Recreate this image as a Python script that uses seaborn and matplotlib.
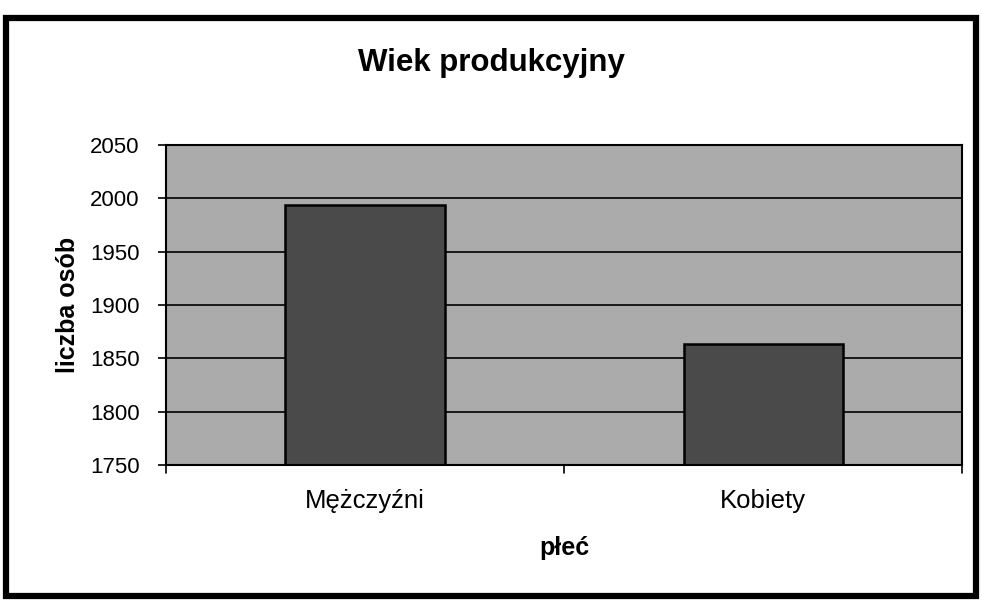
import matplotlib
matplotlib.use("Agg")
import matplotlib.pyplot as plt
import seaborn as sns
from matplotlib.patches import Rectangle

categories = ["Mężczyźni", "Kobiety"]
values = [1994, 1863]
yticks = [1750, 1800, 1850, 1900, 1950, 2000, 2050]

sns.set_theme(style="white")
plt.rcParams['font.family'] = ['Liberation Sans', 'DejaVu Sans']
plt.rcParams['text.color'] = 'black'
plt.rcParams['axes.labelcolor'] = 'black'
plt.rcParams['xtick.color'] = 'black'
plt.rcParams['ytick.color'] = 'black'

fig = plt.figure(figsize=(9.82, 6.01), dpi=100)
ax = fig.add_axes([0.169, 0.2263, 0.811, 0.5324])
ax.set_facecolor("#ababab")
ax.set_axisbelow(True)
ax.yaxis.grid(True, color="black", linewidth=1.2)

sns.barplot(x=categories, y=values, color="#4a4a4a", width=0.4,
            edgecolor="black", linewidth=1.8, ax=ax, saturation=1)

ax.set_ylim(1750, 2050)
ax.set_yticks(yticks)
ax.set_xlim(-0.5, 1.5)
ax.set_xticks([0, 1])
ax.set_xticklabels(categories)
ax.tick_params(axis="y", labelsize=16, length=6, width=1.2, color="black",
               left=True, pad=13, labelcolor="black")
ax.tick_params(axis="x", labelsize=18.5, length=0, pad=17, labelcolor="black")
for x in [-0.5, 0.5, 1.5]:
    ax.plot([x, x], [0, -0.025], transform=ax.get_xaxis_transform(), color="black",
            linewidth=1.2, clip_on=False)
for s in ax.spines.values():
    s.set_color("black")
    s.set_linewidth(1.5)

ax.set_ylabel("liczba osób", fontsize=18, fontweight="bold", labelpad=7, color="black")
ax.set_xlabel("płeć", fontsize=18, fontweight="bold", labelpad=17, color="black")
fig.text(0.5, 0.895, "Wiek produkcyjny", ha="center", va="center",
         fontsize=22.5, fontweight="bold", color="black")

fig.patches.append(Rectangle((0.006, 0.008), 0.988, 0.962, transform=fig.transFigure,
                             fill=False, edgecolor="black", linewidth=4.5))

fig.savefig("out.png", dpi=100)
